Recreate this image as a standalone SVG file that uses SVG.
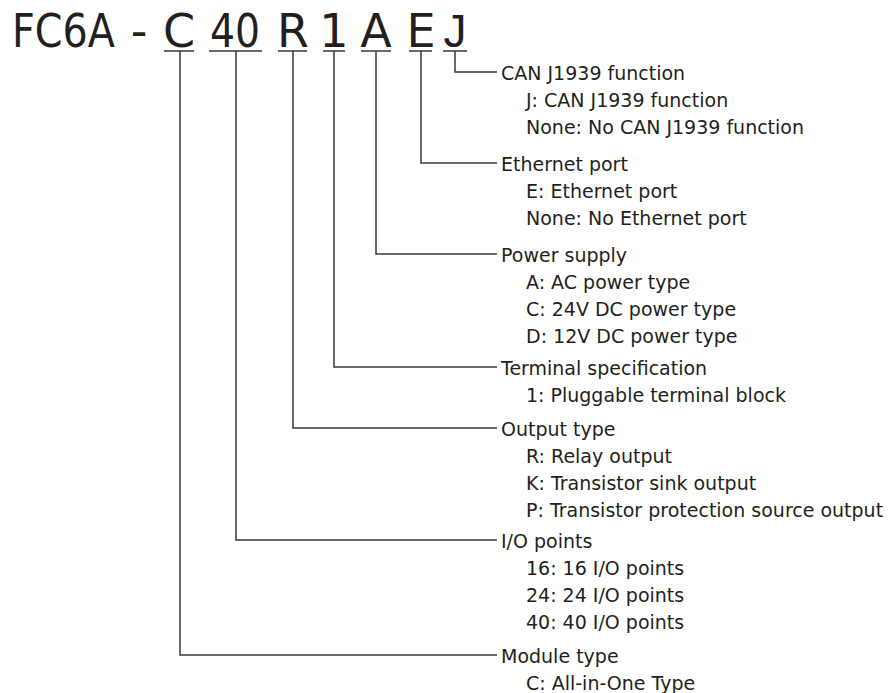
<svg xmlns="http://www.w3.org/2000/svg" width="891" height="693" viewBox="0 0 891 693">
<style>
text{font-family:"DejaVu Sans","Liberation Sans",sans-serif;fill:#231f20}
.t{font-size:46px}
.l{font-size:19px}
.c{fill:none;stroke:#3a3a3a;stroke-width:1.5}
</style>
<rect width="891" height="693" fill="#fff"/>
<g id="title">
<text class="t" x="12" y="47" textLength="103" lengthAdjust="spacingAndGlyphs">FC6A</text>
<text class="t" x="139" y="47" text-anchor="middle">-</text>
<text class="t" x="179" y="47" text-anchor="middle">C</text>
<text class="t" x="210" y="47" textLength="50" lengthAdjust="spacingAndGlyphs">40</text>
<text class="t" x="293" y="47" text-anchor="middle">R</text>
<text class="t" x="334" y="47" text-anchor="middle">1</text>
<text class="t" x="376" y="47" text-anchor="middle">A</text>
<text class="t" x="421" y="47" text-anchor="middle">E</text>
<text class="t" x="455" y="47" text-anchor="middle" style="font-family:'Liberation Sans',sans-serif">J</text>
</g>
<g id="connectors" class="c">
<path d="M164 51H194M209 51H262M278 51H307M323 51H345M361 51H391M409 51H432M443 51H467"/>
<path d="M455 51V72H497"/>
<path d="M421 51V163H497"/>
<path d="M376 51V254H497"/>
<path d="M334 51V367H497"/>
<path d="M293 51V428H497"/>
<path d="M236 51V540H497"/>
<path d="M180 51V655H497"/>
</g>
<g id="can" class="l">
<text x="501" y="79.5">CAN J1939 function</text>
<text x="526" y="106.5">J: CAN J1939 function</text>
<text x="526" y="133.5">None: No CAN J1939 function</text>
</g>
<g id="ethernet" class="l">
<text x="501" y="170.5">Ethernet port</text>
<text x="526" y="197.5">E: Ethernet port</text>
<text x="526" y="224.5">None: No Ethernet port</text>
</g>
<g id="power" class="l">
<text x="501" y="261.5">Power supply</text>
<text x="526" y="288.5">A: AC power type</text>
<text x="526" y="315.5">C: 24V DC power type</text>
<text x="526" y="342.5">D: 12V DC power type</text>
</g>
<g id="terminal" class="l">
<text x="501" y="374.5">Terminal specification</text>
<text x="526" y="401.5">1: Pluggable terminal block</text>
</g>
<g id="output" class="l">
<text x="501" y="435.5">Output type</text>
<text x="526" y="462.5">R: Relay output</text>
<text x="526" y="489.5">K: Transistor sink output</text>
<text x="526" y="516.5">P: Transistor protection source output</text>
</g>
<g id="io" class="l">
<text x="501" y="547.5">I/O points</text>
<text x="526" y="574.5">16: 16 I/O points</text>
<text x="526" y="601.5">24: 24 I/O points</text>
<text x="526" y="628.5">40: 40 I/O points</text>
</g>
<g id="module" class="l">
<text x="501" y="662.5">Module type</text>
<text x="526" y="689.5">C: All-in-One Type</text>
</g>
</svg>
